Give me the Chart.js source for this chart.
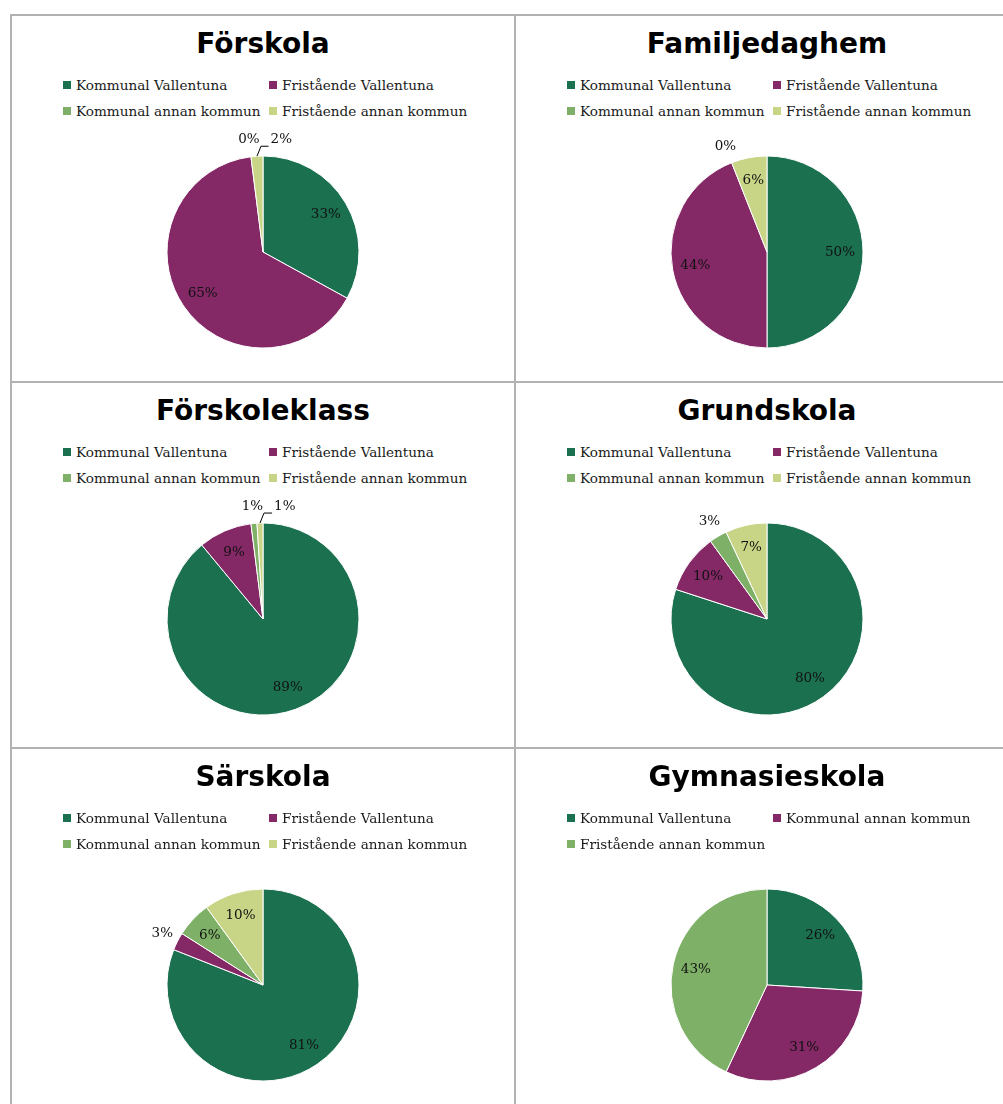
<!DOCTYPE html>
<html lang="sv">
<head>
  <meta charset="UTF-8" />
  <meta name="viewport" content="width=device-width, initial-scale=1.0" />
  <title>Elever per verksamhet</title>
  <style>
    * {
      margin: 0;
      padding: 0;
      box-sizing: border-box;
    }
    html, body {
      width: 1003px;
      height: 1104px;
      overflow: hidden;
      background: #fff;
    }
    body {
      position: relative;
    }
    /* one bordered cell per chart */
    .cell {
      position: absolute;
      width: 504px;
      height: 367px;
      border-left: 2px solid #b2b2b2;
      border-top: 2px solid #b2b2b2;
    }
    .cell h2 {
      position: absolute;
      left: 0;
      right: 0;
      top: 14px;
      text-align: center;
      font: bold 28px/27px "DejaVu Sans", sans-serif;
      color: #000;
    }
    .legend {
      position: absolute;
      left: 51px;
      top: 56px;
      display: grid;
      grid-template-columns: 206px 206px;
      grid-auto-rows: 26px;
      font: 13.6px "DejaVu Serif", serif;
      color: #1a1a1a;
    }
    .legend .item {
      display: flex;
      align-items: center;
      white-space: nowrap;
    }
    .legend i {
      display: block;
      width: 8px;
      height: 8px;
      margin-right: 5px;
    }
    .cell canvas {
      position: absolute;
      left: 0;
      top: 0;
    }
  </style>
</head>
<body>
  <div id="grid"></div>

  <script src="https://cdn.jsdelivr.net/npm/chart.js"></script>
  <script>
    // series names and values (percent)
    const titles = ['Förskola', 'Familjedaghem', 'Förskoleklass', 'Grundskola', 'Särskola', 'Gymnasieskola'];
    const seriesLabels = ['Kommunal Vallentuna', 'Fristående Vallentuna', 'Kommunal annan kommun', 'Fristående annan kommun'];
    const gymLabels = ['Kommunal Vallentuna', 'Kommunal annan kommun', 'Fristående annan kommun'];

    const forskola = [33, 65, 0, 2];
    const familjedaghem = [50, 44, 0, 6];
    const forskoleklass = [89, 9, 1, 1];
    const grundskola = [80, 10, 3, 7];
    const sarskola = [81, 3, 6, 10];
    const gymnasieskola = [26, 31, 43];

    // colours
    const seriesColors = ['#1b7050', '#842866', '#7fb067', '#c8d486'];
    const gymColors = ['#1b7050', '#842866', '#7fb067'];

    const charts = [
      { title: titles[0], labels: seriesLabels, values: forskola, colors: seriesColors },
      { title: titles[1], labels: seriesLabels, values: familjedaghem, colors: seriesColors },
      { title: titles[2], labels: seriesLabels, values: forskoleklass, colors: seriesColors },
      { title: titles[3], labels: seriesLabels, values: grundskola, colors: seriesColors },
      { title: titles[4], labels: seriesLabels, values: sarskola, colors: seriesColors },
      { title: titles[5], labels: gymLabels, values: gymnasieskola, colors: gymColors }
    ];

    const rowTops = [14, 381, 747];
    const colLefts = [10, 514];

    // percent labels: inside the slice, small ones outside with a leader line if crowded
    const pctLabels = {
      id: 'pctLabels',
      afterDatasetsDraw(chart) {
        const ctx = chart.ctx;
        const meta = chart.getDatasetMeta(0);
        const values = chart.data.datasets[0].data;
        ctx.save();
        ctx.font = '13.5px "DejaVu Serif", serif';
        ctx.fillStyle = '#111';
        ctx.textAlign = 'center';
        ctx.textBaseline = 'middle';
        let prevRight = -Infinity;
        meta.data.forEach((arc, i) => {
          const p = arc.getProps(['x', 'y', 'startAngle', 'endAngle', 'outerRadius'], true);
          const mid = (p.startAngle + p.endAngle) / 2;
          const text = values[i] + '%';
          const w = ctx.measureText(text).width;
          const outside = values[i] < 5;
          const r = outside ? p.outerRadius + 17 : p.outerRadius * 0.76;
          let lx = p.x + Math.cos(mid) * r;
          const ly = p.y + Math.sin(mid) * r;
          if (outside) {
            if (lx - w / 2 < prevRight + 11) {
              lx = prevRight + 11 + w / 2;
              const ex = p.x + Math.cos(mid) * p.outerRadius;
              const ey = p.y + Math.sin(mid) * p.outerRadius;
              ctx.strokeStyle = '#000';
              ctx.lineWidth = 1;
              ctx.beginPath();
              ctx.moveTo(ex, ey);
              ctx.lineTo(ex + 4, ly + 7);
              ctx.lineTo(lx - w / 2 - 2, ly + 7);
              ctx.stroke();
            }
            prevRight = lx + w / 2;
          }
          ctx.fillText(text, lx, ly);
        });
        ctx.restore();
      }
    };

    const grid = document.getElementById('grid');

    charts.forEach((c, n) => {
      const cell = document.createElement('div');
      cell.className = 'cell';
      cell.style.left = colLefts[n % 2] + 'px';
      cell.style.top = rowTops[Math.floor(n / 2)] + 'px';

      const h = document.createElement('h2');
      h.textContent = c.title;
      cell.appendChild(h);

      const legend = document.createElement('div');
      legend.className = 'legend';
      c.labels.forEach((lab, i) => {
        const item = document.createElement('span');
        item.className = 'item';
        item.innerHTML = '<i style="background:' + c.colors[i] + '"></i>' + lab;
        legend.appendChild(item);
      });
      cell.appendChild(legend);

      const canvas = document.createElement('canvas');
      canvas.width = 502;
      canvas.height = 365;
      cell.appendChild(canvas);
      grid.appendChild(cell);

      new Chart(canvas, {
        type: 'pie',
        data: {
          labels: c.labels,
          datasets: [{
            data: c.values,
            backgroundColor: c.colors,
            borderColor: '#fff',
            borderWidth: 1,
            radius: 96
          }]
        },
        options: {
          responsive: false,
          animation: false,
          layout: { padding: { left: 155, right: 155, top: 140, bottom: 33 } },
          plugins: {
            legend: { display: false },
            tooltip: { enabled: false },
            title: { display: false }
          }
        },
        plugins: [pctLabels]
      });
    });
  </script>
</body>
</html>
